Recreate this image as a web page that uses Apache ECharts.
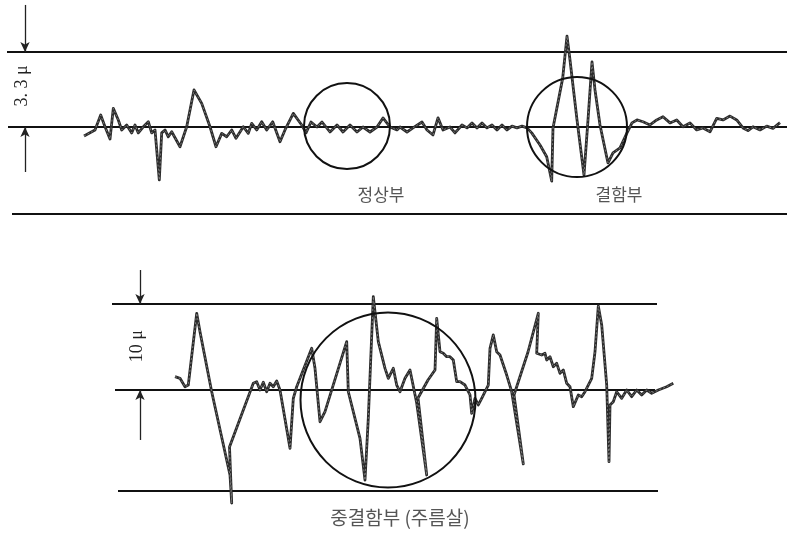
<!DOCTYPE html>
<html><head><meta charset="utf-8">
<script src="https://cdn.jsdelivr.net/npm/echarts@6/dist/echarts.min.js"></script>
<style>html,body{margin:0;padding:0;background:#fff}#c{width:787px;height:533px}</style>
</head><body><div id="c"></div>
<script>
// Upper trace: position (arbitrary length units) vs. height (micron)
const topTrace = [
[7.6,-0.40],[8.7,-0.13],[9.27,0.53],[9.7,0.01],[10.2,-0.53],[10.53,0.82],[11.03,0.31],[11.37,-0.13],
[11.87,0.09],[12.37,-0.26],[12.7,0.09],[13.03,-0.26],[13.53,0.01],[14.03,0.23],[14.37,-0.26],[14.7,-0.13],
[15.13,-2.33],[15.37,-0.26],[15.7,-0.13],[16.03,-0.43],[16.37,-0.21],[17.2,-0.87],[17.87,0.01],[18.6,1.63],
[19.37,1.04],[20.2,0.01],[20.8,-0.87],[21.37,-0.28],[21.87,-0.43],[22.37,-0.13],[22.8,-0.50],[23.53,0.01],
[24.03,-0.28],[24.37,0.16],[24.87,-0.13],[25.37,0.23],[25.87,-0.13],[26.47,0.23],[27.2,-0.65],[27.7,-0.13],
[28.53,0.60],[29.37,0.09],[29.8,-0.26],[30.3,0.22],[30.9,0],[31.4,0.22],[32.2,-0.22],[32.9,0.09],
[33.5,-0.22],[34.2,0.09],[34.9,-0.22],[35.5,0],[36.2,-0.22],[36.9,0],[37.5,0.40],[38.2,0],
[38.9,-0.13],[39.2,0],[39.9,-0.22],[40.5,-0.04],[41.4,0.22],[41.9,-0.13],[42.5,-0.35],[43.0,0.40],
[43.5,-0.13],[44.2,0],[44.7,-0.26],[45.4,0.09],[45.9,-0.04],[46.4,0.18],[46.9,-0.04],[47.4,0.18],
[47.9,-0.04],[48.4,0.09],[48.9,-0.13],[49.4,0.09],[49.9,-0.13],[50.4,0.04],[50.9,-0.04],[51.4,0.04],
[51.9,-0.04],[52.37,-0.26],[53.2,-0.79],[53.87,-1.31],[54.37,-2.38],[54.5,-0.04],[55.47,2.15],[55.9,4.00],
[56.2,2.95],[56.9,0.31],[57.6,-2.11],[58.0,0.31],[58.4,2.86],[58.7,1.63],[59.2,0.09],[59.87,-1.32],
[60.0,-1.58],[60.5,-1.14],[61.2,-0.92],[61.9,-0.26],[62.4,0.18],[62.9,0.31],[63.5,0.23],[64.2,0.09],
[64.87,0.31],[65.5,0.45],[66.2,0.18],[66.87,0.31],[67.5,0.01],[68.2,0.18],[68.87,-0.13],[69.5,-0.04],
[70.2,-0.21],[70.87,0.38],[71.5,0.31],[72.2,0.48],[72.87,0.31],[73.5,-0.04],[74.0,-0.16],[74.5,0.01],
[75.2,-0.13],[75.87,0.04],[76.5,-0.06],[77.2,0.19]
];
// Lower trace: position vs. height (micron)
const bottomTrace = [
[6.3,1.55],[6.8,1.36],[7.3,0.38],[7.63,0.58],[8.47,8.92],[8.8,6.78],[9.97,-0.20],[11.8,-9.88],
[11.97,-13.14],[11.75,-6.63],[14.13,0.78],[14.47,0.97],[14.8,0],[15.13,0.90],[15.47,-0.20],[15.8,0.78],
[16.13,0.38],[16.47,1.05],[16.8,0],[17.8,-6.78],[18.13,-0.97],[18.47,0.38],[19.97,4.85],[20.3,2.52],
[20.8,-3.69],[21.3,-2.52],[23.47,5.62],[23.63,-0.20],[24.8,-5.62],[25.3,-10.47],[25.63,-3.29],[26.13,10.85],
[26.63,5.62],[27.3,2.52],[27.63,1.36],[28.13,2.52],[28.47,0.58],[28.8,-0.20],[29.3,1.36],[29.8,2.33],
[30.47,-1.51],[31.47,-9.88],[30.6,-0.93],[31.6,1.16],[32.3,2.33],[32.47,8.34],[32.8,4.45],[33.13,4.27],
[33.47,3.87],[33.8,3.87],[34.13,3.49],[34.47,0.97],[34.8,0.97],[35.3,0.58],[35.8,-0.58],[35.97,-2.71],
[36.3,-0.97],[36.63,-1.74],[36.97,-0.97],[37.63,0.58],[37.8,4.85],[38.13,6.40],[38.47,4.45],[38.8,4.07],
[39.47,1.74],[39.97,-0.20],[41.13,-8.60],[40.2,-0.58],[41.6,4.42],[42.63,8.92],[42.47,4.27],[42.97,4.07],
[43.3,4.27],[43.47,3.49],[43.8,3.87],[44.13,2.71],[44.47,3.10],[44.8,1.94],[45.13,2.33],[45.47,0.78],
[45.8,0.38],[46.13,-1.94],[46.63,-0.58],[46.97,-0.78],[47.3,-0.20],[47.97,1.36],[48.3,4.45],[48.63,9.77],
[48.97,7.56],[49.47,0.58],[49.7,-8.34],[49.8,-1.74],[50.13,-1.36],[50.47,-0.20],[50.97,-0.97],[51.47,0],
[51.97,-0.78],[52.47,0],[52.97,-0.58],[53.47,0],[53.97,-0.38],[54.63,0],[55.47,0.38],[56.13,0.78]
];
// Reference levels (micron): upper limit, mean line, lower frame
const topLevels = [3.3, 0, -3.83];
const topLevelStart = [-0.1, 0, 0.4];
const topLevelEnd = [77.9, 77.9, 77.9];
const bottomLevels = [10, 0, -11.74];
const bottomLevelStart = [0, 0.3, 0.6];
const bottomLevelEnd = [54.5, 54.3, 54.6];
// Scale arrows [x, yFrom, yTo]
const topArrows = [[1.7, 5.37, 3.3], [1.7, -1.98, 0]];
const bottomArrows = [[2.8, 13.95, 10], [2.8, -5.81, 0]];
// Highlighted regions: [grid, x, y, radius (x units)]
const regions = [[0, 33.9, 0.04, 4.3], [0, 56.9, 0.0, 5.0], [1, 27.6, -1.16, 8.75]];
// Text labels: [grid, x, y, text, font size]
const topScaleLabel = '3. 3 \u03bc';
const bottomScaleLabel = '10 \u03bc';
const regionLabels = [[0, 37.3, -2.99, '정상부', 17], [0, 61.1, -2.99, '결함부', 17], [1, 28.8, -14.9, '중결함부 (주름살)', 19]];

const kTop = 75 / 3.3, kBot = 86 / 10;
const topMin = -4, topMax = 5.588;
const botMin = -14.6, botMax = 14.2;

const chart = echarts.init(document.getElementById('c'), null, {renderer: 'canvas'});
const series = [];
function levelSeries(levels, st, en, gi) {
  levels.forEach((v, i) => series.push({
    type: 'line', xAxisIndex: gi, yAxisIndex: gi, data: [[st[i], v], [en[i], v]],
    showSymbol: false, silent: true, animation: false, clip: false,
    lineStyle: {color: '#111', width: 2}
  }));
}
levelSeries(topLevels, topLevelStart, topLevelEnd, 0);
levelSeries(bottomLevels, bottomLevelStart, bottomLevelEnd, 1);
function arrowSeries(arrs, gi) {
  series.push({
    type: 'line', xAxisIndex: gi, yAxisIndex: gi, data: [], silent: true, animation: false,
    markLine: {
      silent: true, animation: false, symbol: ['none', 'arrow'], symbolSize: [7, 10],
      label: {show: false},
      lineStyle: {color: '#222', width: 1.3, type: 'solid'},
      data: arrs.map(a => [{coord: [a[0], a[1]]}, {coord: [a[0], a[2]]}])
    }
  });
}
arrowSeries(topArrows, 0);
arrowSeries(bottomArrows, 1);
[[topTrace, 0], [bottomTrace, 1]].forEach(([d, gi]) => {
  series.push({
    type: 'line', xAxisIndex: gi, yAxisIndex: gi, data: d, showSymbol: false, animation: false,
    clip: false, lineStyle: {color: '#2a2a2a', width: 2.8, join: 'round'}, z: 3
  });
  series.push({
    type: 'line', xAxisIndex: gi, yAxisIndex: gi, data: d, showSymbol: false, animation: false,
    clip: false, lineStyle: {color: '#9a9a9a', width: 0.7, type: [2, 2]}, z: 4
  });
});

const hidden = {show: false, splitLine: {show: false}};
chart.setOption({
  backgroundColor: '#fff',
  animation: false,
  grid: [
    {left: 0, width: 787, top: 127 - topMax * kTop, height: (topMax - topMin) * kTop},
    {left: 100, width: 580, top: 390 - botMax * kBot, height: (botMax - botMin) * kBot}
  ],
  xAxis: [
    Object.assign({type: 'value', gridIndex: 0, min: -0.8, max: 77.9}, hidden),
    Object.assign({type: 'value', gridIndex: 1, min: -1.2, max: 56.8}, hidden)
  ],
  yAxis: [
    Object.assign({type: 'value', gridIndex: 0, min: topMin, max: topMax}, hidden),
    Object.assign({type: 'value', gridIndex: 1, min: botMin, max: botMax}, hidden)
  ],
  series: series
});

const g = [];
regions.forEach(r => {
  const p = chart.convertToPixel({gridIndex: r[0]}, [r[1], r[2]]);
  const q = chart.convertToPixel({gridIndex: r[0]}, [r[1] + r[3], r[2]]);
  g.push({type: 'circle', silent: true, z: 10,
    shape: {cx: p[0], cy: p[1], r: q[0] - p[0]},
    style: {fill: 'none', stroke: '#111', lineWidth: 2}});
});
regionLabels.forEach(l => {
  const p = chart.convertToPixel({gridIndex: l[0]}, [l[1], l[2]]);
  g.push({type: 'text', silent: true, z: 10, x: p[0], y: p[1],
    style: {text: l[3], fill: '#555', font: l[4] + 'px "Noto Sans CJK KR"',
      align: 'center', verticalAlign: 'middle'}});
});
const lp1 = chart.convertToPixel({gridIndex: 0}, [1.4, 1.81]);
g.push({type: 'text', silent: true, z: 10, x: lp1[0], y: lp1[1], rotation: Math.PI / 2,
  style: {text: topScaleLabel, fill: '#222', font: '18px "Liberation Serif"', align: 'center', verticalAlign: 'middle'}});
const lp2 = chart.convertToPixel({gridIndex: 1}, [2.5, 5.1]);
g.push({type: 'text', silent: true, z: 10, x: lp2[0], y: lp2[1], rotation: Math.PI / 2,
  style: {text: bottomScaleLabel, fill: '#222', font: '18px "Liberation Serif"', align: 'center', verticalAlign: 'middle'}});
chart.setOption({graphic: g});
</script></body></html>
